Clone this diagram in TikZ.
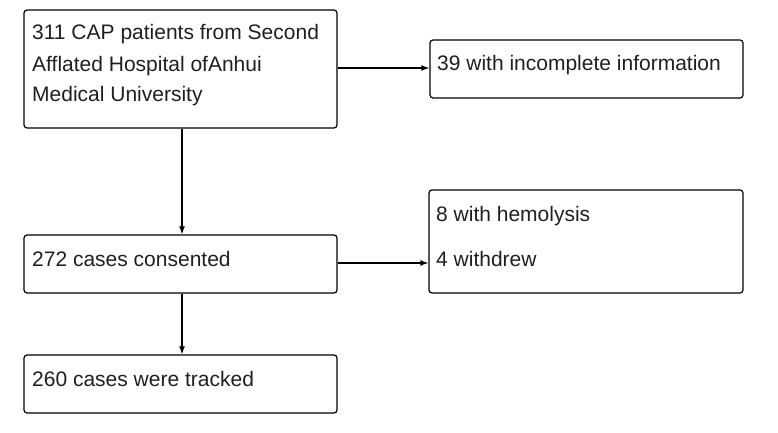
\documentclass[tikz,border=0pt]{standalone}
\usepackage{fontspec}
\setmainfont{Liberation Sans}
\usetikzlibrary{arrows.meta}
\begin{document}
\begin{tikzpicture}[x=1pt,y=-1pt,
  boxnode/.style={draw=black,line width=1.2pt,rounded corners=3pt,inner sep=0pt},
  txt/.style={anchor=base west,inner sep=0pt,text=black!88,font=\fontsize{21}{31}\selectfont},
  arr/.style={line width=1.3pt,-{Latex[length=8pt,width=6pt]}}]
\useasboundingbox (0,0) rectangle (778,433);
% boxes
\node[boxnode,minimum width=313pt,minimum height=118pt] (b1) at (180.5,69) {};
\node[boxnode,minimum width=313pt,minimum height=58pt] (b2) at (586.5,69) {};
\node[boxnode,minimum width=313pt,minimum height=58pt] (b3) at (180.5,264) {};
\node[boxnode,minimum width=314pt,minimum height=103pt] (b4) at (586,241.5) {};
\node[boxnode,minimum width=313pt,minimum height=58pt] (b5) at (180.5,384) {};
% texts
\node[txt] (t1a) at (32,40) {311 CAP patients from Second};
\node[txt] (t1b) at (32,71.5) {Afflated Hospital ofAnhui};
\node[txt] (t1c) at (32,102) {Medical University};
\node[txt] (t2) at (437,71) {39 with incomplete information};
\node[txt] (t3) at (32,266) {272 cases consented};
\node[txt] (t4a) at (436,221) {8 with hemolysis};
\node[txt] (t4b) at (436,266) {4 withdrew};
\node[txt] (t5) at (32,386) {260 cases were tracked};
% connectors
\draw[arr] ([yshift=1pt]b1.east) -- ([yshift=1pt]b2.west);
\draw[arr] ([xshift=1.5pt]b1.south) -- ([xshift=1.5pt]b3.north);
\draw[arr] ([yshift=1pt]b3.east) -- ([yshift=1pt]b3.east -| b4.west);
\draw[arr] ([xshift=1.5pt]b3.south) -- ([xshift=1.5pt]b5.north);
\end{tikzpicture}
\end{document}
